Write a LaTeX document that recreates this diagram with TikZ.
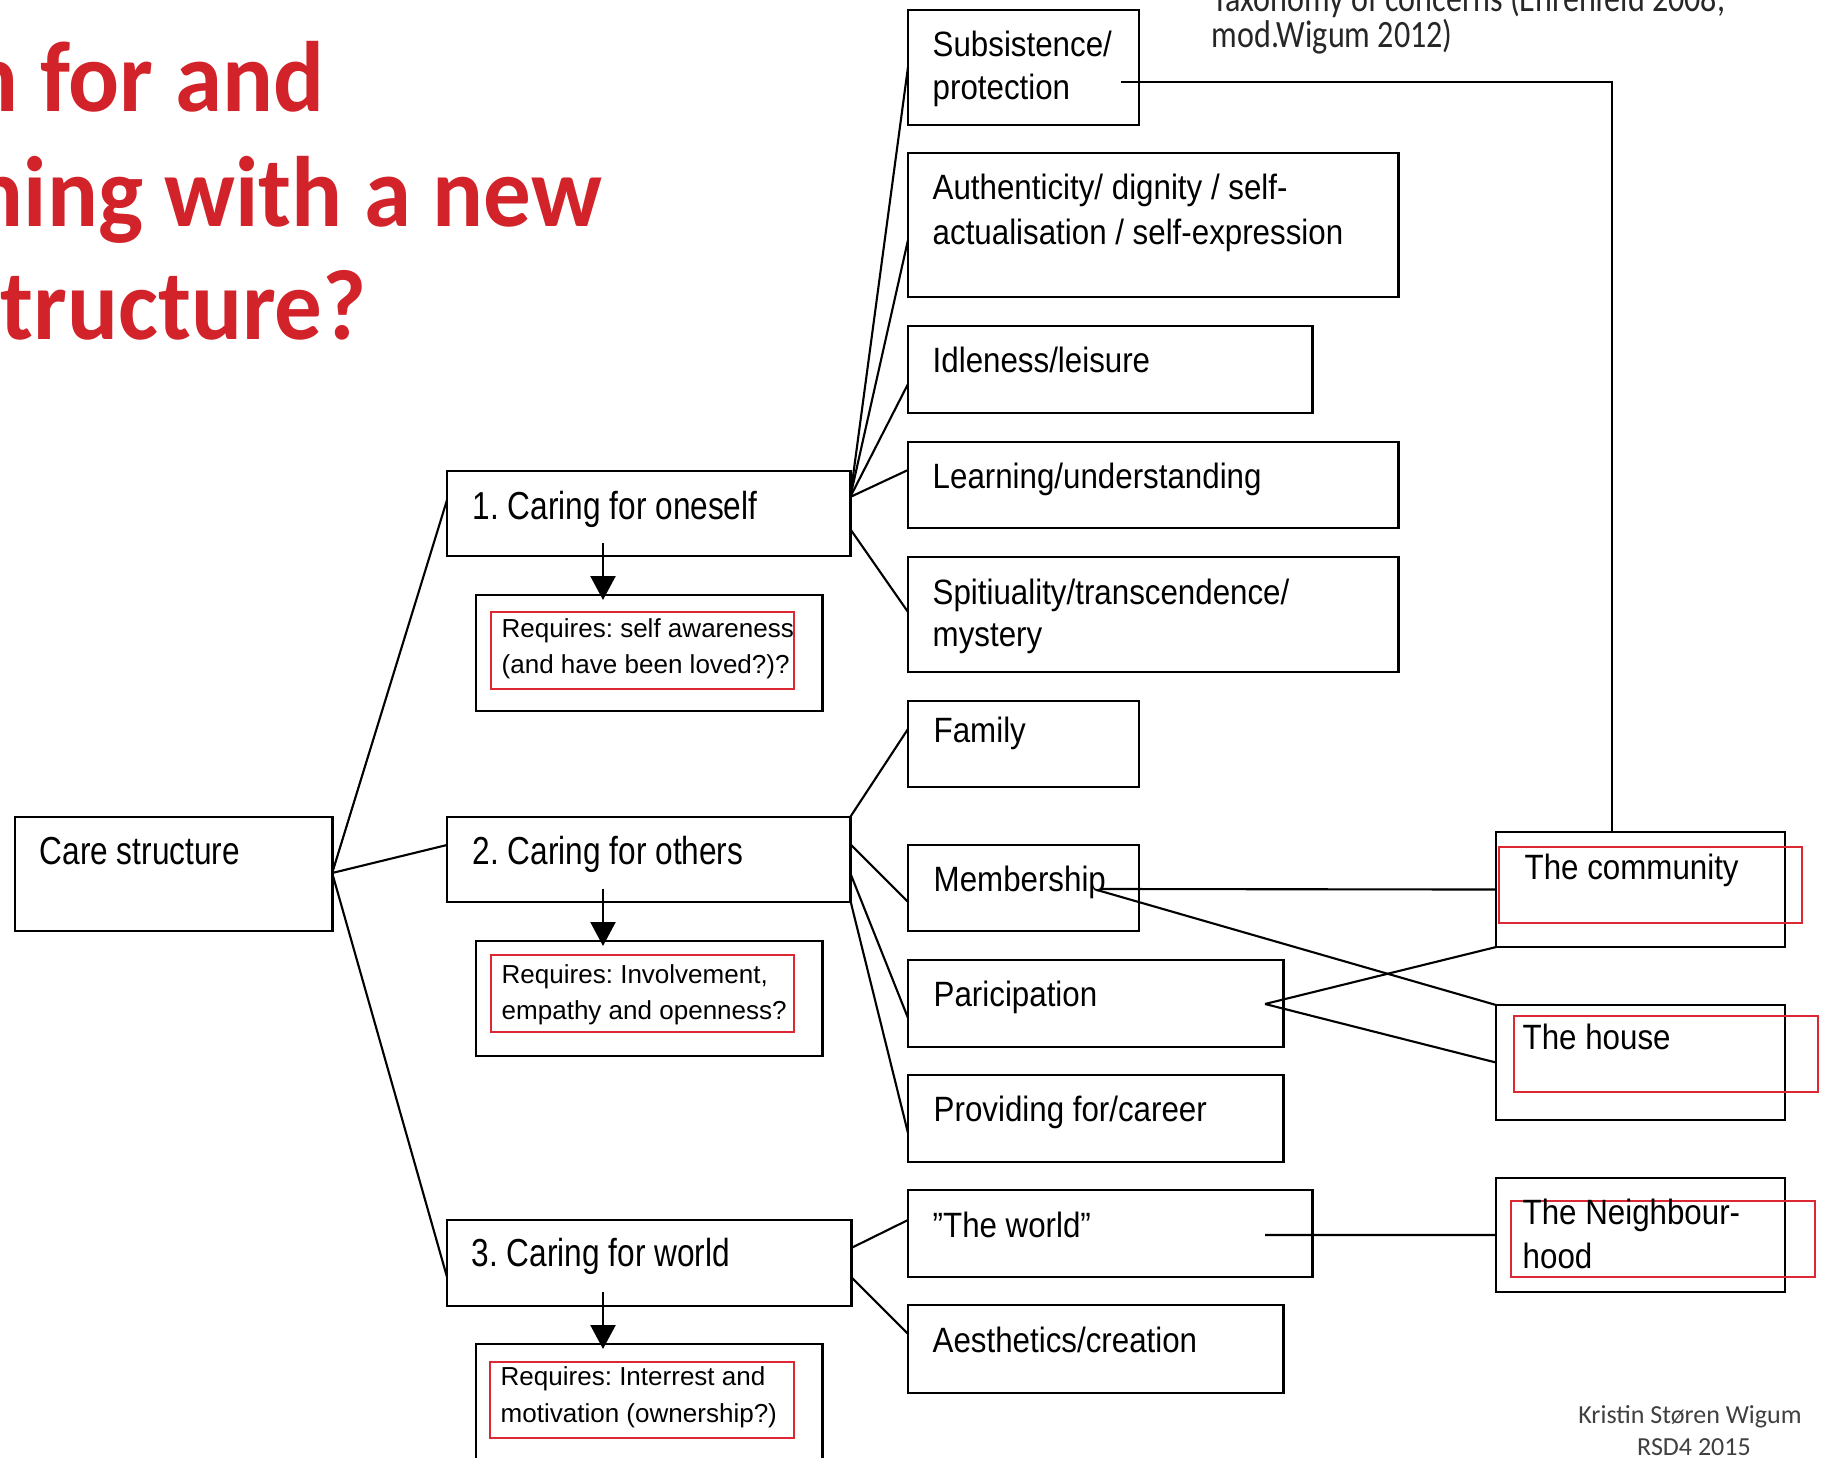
\documentclass[tikz,border=0pt]{standalone}
\usepackage{fontspec}
\setmainfont{Liberation Sans}
\newfontfamily\fCare[FakeStretch=0.81]{Liberation Sans}
\newfontfamily\fItem[FakeStretch=0.89]{Liberation Sans}
\newfontfamily\fReq{Liberation Sans}
\newfontfamily\fTitle[FakeStretch=0.95]{Carlito}
\newfontfamily\fNote[FakeStretch=0.83]{Carlito}
\newfontfamily\fFoot{Carlito}
\usetikzlibrary{arrows.meta,calc}
\definecolor{titlered}{RGB}{210,35,42}
\definecolor{boxred}{RGB}{220,40,50}
\definecolor{notegray}{RGB}{38,38,38}
\definecolor{footgray}{RGB}{64,64,64}
\frenchspacing
\begin{document}
\begin{tikzpicture}[x=0.01cm,y=-0.01cm,
  box/.style={draw=black,line width=0.75pt,anchor=north west,inner sep=0pt,outer sep=0pt},
  redbox/.style={draw=boxred,line width=0.7pt,anchor=north west,inner sep=0pt,outer sep=0pt},
  conn/.style={draw=black,line width=0.6pt},
  reqarrow/.style={draw=black,line width=0.6pt,-{Triangle[width=7.1pt,length=6.8pt]}},
  tcare/.style={anchor=base west,inner sep=0pt,font=\fCare\fontsize{11.1}{13}\selectfont\frenchspacing},
  titem/.style={anchor=base west,inner sep=0pt,font=\fItem\fontsize{10}{12}\selectfont\frenchspacing},
  treq/.style={anchor=base west,inner sep=0pt,font=\fReq\fontsize{7.4}{9}\selectfont\frenchspacing},
  ttitle/.style={anchor=base west,inner sep=0pt,text=titlered,font=\fTitle\bfseries\fontsize{28.45}{34}\selectfont},
  tnote/.style={anchor=base west,inner sep=0pt,text=notegray,font=\fNote\fontsize{11}{13}\selectfont\frenchspacing},
  tfoot/.style={anchor=base,inner sep=0pt,text=footgray,font=\fFoot\fontsize{7.4}{9}\selectfont},
]
\useasboundingbox (0,0) rectangle (1829,1458);
\clip (0,0) rectangle (1829,1458);

% ---------- title ----------
\node[ttitle] (title1) at (-33,112) {n for and};
\node[ttitle] (title2) at (-28,227) {ning with a new};
\node[ttitle] (title3) at (0,340) {tructure?};

% ---------- note ----------
\node[tnote] (note1) at (1212,12) {Taxonomy of concerns (Ehrenfeld 2008,};
\node[tnote] (note2) at (1211,48) {mod.Wigum 2012)};

% ---------- footer ----------
\node[tfoot] (foot1) at (1690,1423) {Kristin Støren Wigum};
\node[tfoot] (foot2) at (1694,1455) {RSD4 2015};

% ---------- left boxes ----------
\node[box,minimum width=3.17cm,minimum height=1.14cm] (care) at (15,817) {};
\node[box,minimum width=4.03cm,minimum height=0.85cm] (c1) at (447,471) {};
\node[box,minimum width=4.03cm,minimum height=0.85cm] (c2) at (447,817) {};
\node[box,minimum width=4.04cm,minimum height=0.86cm] (c3) at (447,1220) {};
\node[box,minimum width=3.46cm,minimum height=1.16cm] (r1) at (476,595) {};
\node[box,minimum width=3.46cm,minimum height=1.15cm] (r2) at (476,941) {};
\node[box,minimum width=3.46cm,minimum height=1.30cm] (r3) at (476,1344) {};
\node[redbox,minimum width=3.03cm,minimum height=0.77cm] (rr1) at (491,612) {};
\node[redbox,minimum width=3.03cm,minimum height=0.77cm] (rr2) at (491,955) {};
\node[redbox,minimum width=3.04cm,minimum height=0.76cm] (rr3) at (490,1362) {};

\node[tcare] (careT) at (39,865) {Care structure};
\node[tcare] (c1T) at (472,520) {1. Caring for oneself};
\node[tcare] (c2T) at (472,865) {2. Caring for others};
\node[tcare] (c3T) at (471,1267) {3. Caring for world};
\node[treq] (r1a) at (501,638) {Requires: self awareness};
\node[treq] (r1b) at (501,674) {(and have been loved?)?};
\node[treq] (r2a) at (501,984) {Requires: Involvement,};
\node[treq] (r2b) at (501,1020) {empathy and openness?};
\node[treq] (r3a) at (500,1385) {Requires: Interrest and};
\node[treq] (r3b) at (500,1422) {motivation (ownership?)};

% ---------- middle boxes ----------
\node[box,minimum width=2.31cm,minimum height=1.15cm] (subs) at (908,10) {};
\node[box,minimum width=4.90cm,minimum height=1.44cm] (auth) at (908,153) {};
\node[box,minimum width=4.04cm,minimum height=0.87cm] (idle) at (908,326) {};
\node[box,minimum width=4.90cm,minimum height=0.86cm] (learn) at (908,442) {};
\node[box,minimum width=4.90cm,minimum height=1.15cm] (spir) at (908,557) {};
\node[box,minimum width=2.31cm,minimum height=0.86cm] (fam) at (908,701) {};
\node[box,minimum width=2.31cm,minimum height=0.86cm] (memb) at (908,845) {};
\node[box,minimum width=3.75cm,minimum height=0.87cm] (part) at (908,960) {};
\node[box,minimum width=3.75cm,minimum height=0.87cm] (prov) at (908,1075) {};
\node[box,minimum width=4.04cm,minimum height=0.87cm] (world) at (908,1190) {};
\node[box,minimum width=3.75cm,minimum height=0.88cm] (aest) at (908,1305) {};

\node[titem] (subsT1) at (932,57) {Subsistence/};
\node[titem] (subsT2) at (932,100) {protection};
\node[titem] (authT1) at (932,200) {Authenticity/ dignity / self-};
\node[titem] (authT2) at (932,245) {actualisation / self-expression};
\node[titem] (idleT) at (932,373) {Idleness/leisure};
\node[titem] (learnT) at (932,489) {Learning/understanding};
\node[titem] (spirT1) at (932,605) {Spitiuality/transcendence/};
\node[titem] (spirT2) at (932,647) {mystery};
\node[titem] (famT) at (933,743) {Family};
\node[titem] (membT) at (933,892) {Membership};
\node[titem] (partT) at (933,1007) {Paricipation};
\node[titem] (provT) at (933,1122) {Providing for/career};
\node[titem] (worldT) at (932,1238) {”The world”};
\node[titem] (aestT) at (932,1353) {Aesthetics/creation};

% ---------- right boxes ----------
\node[box,minimum width=2.89cm,minimum height=1.15cm] (comm) at (1496,832) {};
\node[box,minimum width=2.89cm,minimum height=1.15cm] (house) at (1496,1005) {};
\node[box,minimum width=2.89cm,minimum height=1.14cm] (neigh) at (1496,1178) {};
\node[redbox,minimum width=3.03cm,minimum height=0.76cm] (commR) at (1499,847) {};
\node[redbox,minimum width=3.04cm,minimum height=0.76cm] (houseR) at (1514,1016) {};
\node[redbox,minimum width=3.04cm,minimum height=0.76cm] (neighR) at (1511,1201) {};
\node[titem] (commT) at (1524,880) {The community};
\node[titem] (houseT) at (1522,1050) {The house};
\node[titem] (neighT1) at (1522,1225) {The Neighbour-};
\node[titem] (neighT2) at (1522,1268) {hood};

% ---------- connectors: care structure ----------
\draw[conn] ($(care.north east)+(0,56)$) -- ($(c1.north west)+(0,29)$);
\draw[conn] ($(care.north east)+(0,56)$) -- ($(c2.north west)+(0,28)$);
\draw[conn] ($(care.north east)+(0,56)$) -- ($(c3.north west)+(0,57)$);

% ---------- connectors: caring for oneself ----------
\draw[conn] ($(c1.north east)+(0,26)$) -- ($(subs.north west)+(0,57)$);
\draw[conn] ($(c1.north east)+(0,26)$) -- ($(auth.north west)+(0,87)$);
\draw[conn] ($(c1.north east)+(0,26)$) -- ($(idle.north west)+(0,58)$);
\draw[conn] ($(c1.north east)+(0,26)$) -- ($(learn.north west)+(0,28)$);
\draw[conn] ($(c1.north east)+(0,58)$) -- ($(spir.north west)+(0,55)$);

% ---------- connectors: caring for others ----------
\draw[conn] (c2.north east) -- ($(fam.north west)+(0,28)$);
\draw[conn] ($(c2.north east)+(0,27)$) -- ($(memb.north west)+(0,57)$);
\draw[conn] ($(c2.north east)+(0,56)$) -- ($(part.north west)+(0,58)$);
\draw[conn] ($(c2.north east)+(0,83)$) -- ($(prov.north west)+(0,58)$);

% ---------- connectors: caring for world ----------
\draw[conn] ($(c3.north east)+(0,28)$) -- ($(world.north west)+(0,30)$);
\draw[conn] ($(c3.north east)+(0,57)$) -- ($(aest.north west)+(0,29)$);

% ---------- requirement arrows ----------
\draw[reqarrow] ($(c1.north west)+(156,72)$) -- ($(r1.north west)+(127,5)$);
\draw[reqarrow] ($(c2.north west)+(156,72)$) -- ($(r2.north west)+(127,5)$);
\draw[reqarrow] ($(c3.north west)+(156,72)$) -- ($(r3.north west)+(127,5)$);

% ---------- cross connections ----------
\draw[conn] ($(subs.north west)+(213,72)$) -| ($(comm.north west)+(116,0)$);
\draw[conn] ($(memb.north west)+(192,44)$) -- (comm.west);
\draw[conn] ($(memb.north west)+(189,45)$) -- (house.north west);
\draw[conn] ($(part.north west)+(357,44)$) -- (comm.south west);
\draw[conn] ($(part.north west)+(357,44)$) -- (house.west);
\draw[conn] ($(world.north west)+(357,45)$) -- (neigh.west);
\end{tikzpicture}
\end{document}
